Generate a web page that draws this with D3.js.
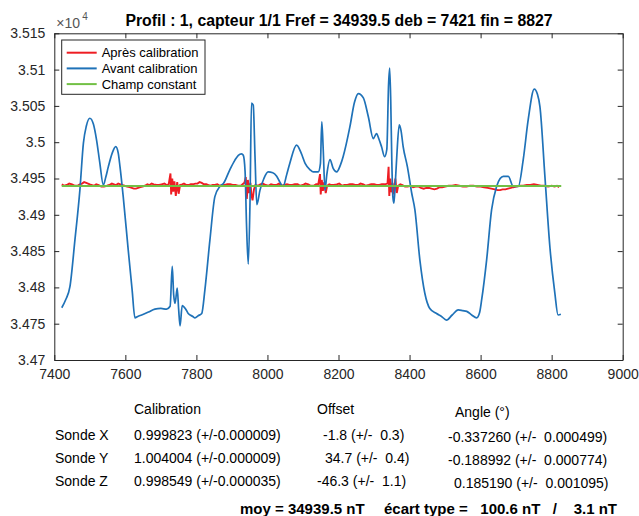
<!DOCTYPE html>
<html><head><meta charset="utf-8">
<script src="https://cdn.jsdelivr.net/npm/d3@7"></script>
<style>
body{margin:0;background:#fff;}
text{font-family:"Liberation Sans",Arial,sans-serif;fill:#262626;white-space:pre;}
</style></head><body>
<svg id="c" width="639" height="516"></svg>
<script>
const titleText = "Profil : 1, capteur 1/1 Fref = 34939.5 deb = 7421 fin = 8827";
const xTicks = [7400,7600,7800,8000,8200,8400,8600,8800,9000];
const yTicks = [34700,34750,34800,34850,34900,34950,35000,35050,35100,35150];
const seriesNames = ["Après calibration","Avant calibration","Champ constant"];
const seriesColors = ["#ee1d23","#1f72b8","#72c045"];
const fref = 34939.5;
const deb = 7421, fin = 8827;

const blueX = [7421,7432,7444,7458,7472,7482,7490,7500,7510,7519,7528,7538,7545,7552,7563,7573,7580,7585,7594,7608,7619,7627,7635,7646,7665,7683,7700,7716,7726,7732,7736,7740,7746,7750,7754,7760,7770,7777,7790,7796,7805,7815,7824,7838,7852,7866,7876,7894,7908,7918,7927,7932,7937,7941,7946,7951,7955,7960,7965,7970,7979,7990,8002,8015,8026,8035,8044,8054,8063,8082,8095,8106,8120,8129,8143,8149,8153,8157,8162,8167,8176,8185,8195,8205,8213,8232,8245,8256,8270,8284,8298,8307,8314,8321,8330,8336,8341,8344,8347,8350,8353,8356,8360,8364,8371,8376,8382,8394,8406,8415,8429,8443,8457,8476,8490,8504,8520,8537,8550,8561,8575,8589,8597,8603,8617,8631,8645,8655,8664,8678,8692,8706,8720,8734,8751,8760,8767,8781,8795,8809,8818,8826];
const blueY = [34772,34783,34801,34865,34934,34999,35022,35033,35025,35003,34972,34941,34952,34966,34985,34994,34985,34966,34925,34852,34797,34758,34760,34762,34766,34770,34771,34770,34774,34829,34790,34778,34799,34770,34747,34775,34770,34764,34760,34758,34761,34764,34797,34865,34925,34939,34943,34962,34975,34982,34984,34982,34960,34888,34832,34920,35054,35051,34980,34914,34934,34950,34959,34958,34953,34945,34939,34955,34971,34996,34985,34971,34962,34959,34959,34970,35028,34990,34934,34955,34976,34964,34959,34968,34980,35021,35055,35067,35061,35035,35005,35012,35004,34994,34980,34990,35080,35102,35058,34976,34925,34916,34945,34980,35024,35016,34994,34966,34930,34907,34838,34792,34771,34764,34760,34755,34762,34769,34768,34767,34762,34758,34765,34783,34838,34907,34939,34950,34953,34953,34939,34939,34976,35031,35073,35066,35049,34953,34856,34792,34762,34763];

const redX = [7421,7428,7435,7442,7450,7458,7465,7472,7478,7484,7490,7500,7506,7512,7518,7525,7532,7540,7548,7555,7562,7568,7574,7580,7586,7592,7598,7605,7612,7618,7624,7630,7636,7642,7648,7655,7662,7668,7674,7680,7688,7695,7702,7710,7716,7722,7727,7729,7732,7735,7738,7742,7746,7750,7754,7760,7765,7772,7778,7784,7790,7797,7803,7809,7815,7821,7828,7834,7840,7846,7852,7859,7866,7873,7880,7887,7895,7902,7910,7917,7925,7930,7935,7939,7942,7945,7948,7952,7955,7958,7962,7966,7973,7980,7987,7995,8002,8010,8017,8025,8032,8040,8047,8055,8062,8070,8077,8085,8092,8100,8107,8115,8122,8130,8137,8143,8148,8150,8153,8156,8160,8164,8168,8174,8180,8187,8195,8202,8210,8217,8225,8232,8240,8247,8255,8262,8270,8277,8285,8292,8300,8307,8315,8322,8330,8338,8341,8343,8346,8349,8352,8356,8360,8364,8368,8374,8380,8387,8395,8402,8410,8417,8425,8432,8440,8447,8455,8462,8470,8477,8485,8492,8500,8510,8520,8530,8540,8550,8560,8570,8580,8590,8600,8610,8620,8630,8640,8648,8655,8662,8670,8677,8685,8692,8700,8710,8720,8730,8740,8750,8760,8770,8780,8790,8800,8808,8815,8821,8827];
const redY = [34942,34940,34941,34943,34942,34940,34940,34942,34943,34945,34944,34942,34941,34940,34942,34941,34939,34939,34940,34941,34943,34942,34941,34943,34942,34941,34940,34939,34938,34937,34936,34936,34937,34938,34939,34940,34942,34941,34943,34942,34941,34941,34942,34943,34941,34942,34957,34928,34950,34932,34946,34926,34945,34929,34941,34942,34943,34941,34941,34942,34942,34943,34943,34945,34944,34942,34942,34941,34940,34941,34941,34942,34940,34941,34941,34942,34942,34941,34941,34940,34940,34942,34944,34952,34922,34948,34930,34944,34927,34920,34935,34941,34940,34942,34943,34941,34940,34942,34941,34941,34943,34940,34941,34942,34941,34941,34942,34942,34940,34941,34943,34942,34940,34940,34942,34942,34956,34928,34948,34933,34945,34930,34940,34942,34941,34941,34942,34943,34940,34941,34941,34942,34942,34941,34941,34943,34942,34940,34941,34942,34942,34941,34941,34942,34942,34943,34966,34926,34950,34931,34944,34928,34950,34930,34940,34942,34941,34939,34939,34940,34938,34939,34939,34937,34936,34937,34937,34936,34935,34936,34938,34938,34939,34940,34940,34941,34940,34939,34939,34940,34940,34939,34939,34938,34937,34936,34935,34934,34934,34935,34935,34936,34937,34938,34939,34940,34940,34941,34941,34942,34941,34940,34940,34939,34940,34939,34940,34938];

const tableHeaders = ["Calibration","Offset","Angle (°)"];
const probeNames = ["Sonde X","Sonde Y","Sonde Z"];
const calibText = ["0.999823 (+/-0.000009)","1.004004 (+/-0.000009)","0.998549 (+/-0.000035)"];
const offsetText = ["-1.8 (+/-  0.3)","34.7 (+/-  0.4)","-46.3 (+/-  1.1)"];
const angleText = ["-0.337260 (+/-  0.000499)","-0.188992 (+/-  0.000774)","0.185190 (+/-  0.001095)"];
const summaryLeft = "moy = 34939.5 nT";
const summaryRight = "écart type =   100.6 nT   /    3.1 nT";

const svg = d3.select("#c");
svg.append("rect").attr("width",639).attr("height",516).attr("fill","#fff");
const L=54.3, R=622.7, T=33.3, B=360;
const x = d3.scaleLinear().domain([7400,9000]).range([L,R]);
const y = d3.scaleLinear().domain([34700,35150]).range([B,T]);

svg.append("defs").append("clipPath").attr("id","pc").append("rect")
  .attr("x",L).attr("y",T).attr("width",R-L).attr("height",B-T);

const fmtY = d3.format(".3~f");
const gb = svg.append("g").attr("transform",`translate(0,${B})`)
  .call(d3.axisBottom(x).tickValues(xTicks).tickSizeInner(-5).tickSizeOuter(0).tickPadding(9).tickFormat(d3.format("d")));
const gt = svg.append("g").attr("transform",`translate(0,${T})`)
  .call(d3.axisTop(x).tickValues(xTicks).tickSizeInner(-5).tickSizeOuter(0).tickFormat(""));
const gl = svg.append("g").attr("transform",`translate(${L},0)`)
  .call(d3.axisLeft(y).tickValues(yTicks).tickSizeInner(-5).tickSizeOuter(0).tickPadding(9).tickFormat(d=>fmtY(d/1e4)));
const gr = svg.append("g").attr("transform",`translate(${R},0)`)
  .call(d3.axisRight(y).tickValues(yTicks).tickSizeInner(-5).tickSizeOuter(0).tickFormat(""));
[gb,gt,gl,gr].forEach(g=>{
  g.select(".domain").attr("stroke","#262626").attr("stroke-width",1);
  g.selectAll(".tick line").attr("stroke","#262626").attr("stroke-width",1);
  g.selectAll(".tick text").attr("font-size",14).attr("font-family","Liberation Sans, Arial, sans-serif").attr("fill","#262626");
});

svg.append("text").attr("x",L+2).attr("y",T-5).attr("font-size",14).style("fill","#555").text("×10");
svg.append("text").attr("x",L+28).attr("y",T-13).attr("font-size",10).style("fill","#555").text("4");

svg.append("text").attr("x",339).attr("y",26).attr("text-anchor","middle")
  .attr("font-size",15.8).attr("font-weight","bold").style("fill","#000").text(titleText);

const plot = svg.append("g").attr("clip-path","url(#pc)");
const line = d3.line().x(d=>x(d[0])).y(d=>y(d[1]));
const lineSmooth = d3.line().x(d=>x(d[0])).y(d=>y(d[1])).curve(d3.curveMonotoneX);
const blue = blueX.map((v,i)=>[v,blueY[i]]);
const red = redX.map((v,i)=>[v,redY[i]]);
const green = [[deb,fref],[fin,fref]];
plot.append("path").datum(red).attr("d",line).attr("fill","none").attr("stroke",seriesColors[0]).attr("stroke-width",1.9);
plot.append("path").datum(blue).attr("d",lineSmooth).attr("fill","none").attr("stroke",seriesColors[1]).attr("stroke-width",1.7).attr("stroke-linejoin","round");
plot.append("path").datum(green).attr("d",line).attr("fill","none").attr("stroke",seriesColors[2]).attr("stroke-width",2);

const lg = svg.append("g");
lg.append("rect").attr("x",61.7).attr("y",40).attr("width",143.3).attr("height",54.3).attr("fill","#fff").attr("stroke","#262626").attr("stroke-width",1);
seriesNames.forEach((n,i)=>{
  const yy = 52.7 + i*15.7;
  lg.append("line").attr("x1",66.7).attr("x2",96.7).attr("y1",yy).attr("y2",yy).attr("stroke",seriesColors[i]).attr("stroke-width",2);
  lg.append("text").attr("x",101.7).attr("y",yy+4.5).attr("font-size",13).style("fill","#000").text(n);
});

const tf = svg.append("g").attr("font-size",14);
tf.append("text").attr("x",134).attr("y",414).text(tableHeaders[0]).style("fill","#000");
tf.append("text").attr("x",317).attr("y",414).text(tableHeaders[1]).style("fill","#000");
tf.append("text").attr("x",455).attr("y",417).text(tableHeaders[2]).style("fill","#000");
const rowsY = [440,463,486];
const offX = [323,325,317];
const angX = [448,448,454];
probeNames.forEach((p,i)=>{
  tf.append("text").attr("x",55).attr("y",rowsY[i]).text(p).style("fill","#000");
  tf.append("text").attr("x",134).attr("y",rowsY[i]).text(calibText[i]).style("fill","#000");
  tf.append("text").attr("x",offX[i]).attr("y",rowsY[i]).text(offsetText[i]).style("fill","#000");
  tf.append("text").attr("x",angX[i]).attr("y",rowsY[i]+2).text(angleText[i]).style("fill","#000");
});
tf.append("text").attr("x",240).attr("y",514).attr("font-size",15).attr("font-weight","bold").text(summaryLeft).style("fill","#000");
tf.append("text").attr("x",384).attr("y",514).attr("font-size",15).attr("font-weight","bold").text(summaryRight).style("fill","#000");
</script></body></html>
